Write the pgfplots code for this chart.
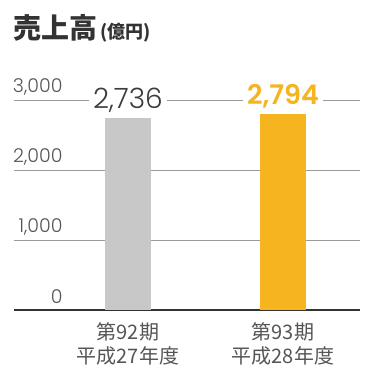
\documentclass[border=0pt]{standalone}
\usepackage{fontspec}
\usepackage{pgfplots}
\pgfplotsset{compat=1.18}
\setmainfont{Noto Sans CJK JP}
\newfontfamily\numlight{Poppins Light}
\newfontfamily\numbold{Poppins SemiBold}
\definecolor{bargrey}{HTML}{C8C8C8}
\definecolor{barorange}{HTML}{F6B41E}
\definecolor{gridgrey}{HTML}{9A9A9A}
\definecolor{darkline}{HTML}{333333}
\definecolor{ticktext}{HTML}{555555}
\definecolor{valtext}{HTML}{3C3C3C}
\definecolor{titletext}{HTML}{333333}
\begin{document}
\begin{tikzpicture}
\useasboundingbox (0,0) rectangle (370pt,380pt);
\node[anchor=base west, inner sep=0pt, text=titletext] at (13pt,341pt)
  {\fontsize{28}{30}\selectfont\bfseries 売上高\hspace{3pt}\fontsize{18}{20}\selectfont (億円)};
\begin{axis}[
  at={(14pt,70pt)}, anchor=south west,
  scale only axis, width=346pt, height=210pt,
  xmin=-0.735, xmax=1.497, ymin=0, ymax=3000,
  axis x line=bottom, axis y line=left,
  y axis line style={draw=none},
  x axis line style={-, draw=darkline, line width=1.2pt},
  major tick length=0pt,
  ytick={0,1000,2000,3000},
  ymajorgrids, grid style={gridgrey, line width=0.9pt},
  /pgf/number format/assume math mode=true,
  /pgf/number format/1000 sep={,},
  yticklabel style={anchor=base east, xshift=52pt, yshift=7pt,
    font=\numlight\fontsize{19}{19}\selectfont, text=ticktext},
  xtick={0,1},
  xticklabels={{第92期\\平成27年度},{第93期\\平成28年度}},
  xticklabel style={anchor=north, align=center, yshift=-9pt,
    font=\fontsize{20}{24}\selectfont, text=ticktext},
  clip=false,
]
\addplot[ybar, bar width=46pt, bar shift=0pt, fill=bargrey, draw=none,
  nodes near coords,
  nodes near coords style={anchor=base, yshift=10pt, fill=white,
    inner xsep=4pt, inner ysep=2pt, text=valtext,
    font=\numlight\fontsize{28}{28}\selectfont}]
  coordinates {(0,2736)};
\addplot[ybar, bar width=46pt, bar shift=0pt, fill=barorange, draw=none,
  nodes near coords,
  nodes near coords style={anchor=base, yshift=10pt, fill=white,
    inner xsep=4pt, inner ysep=2pt, text=barorange,
    font=\numbold\fontsize{27}{27}\selectfont}]
  coordinates {(1,2794)};
\end{axis}
\end{tikzpicture}
\end{document}
